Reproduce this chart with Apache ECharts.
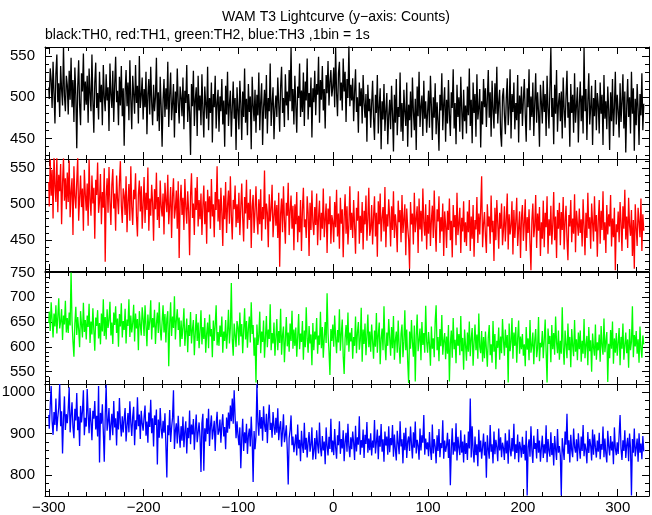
<!DOCTYPE html>
<html><head><meta charset="utf-8">
<script src="https://cdn.jsdelivr.net/npm/echarts@6/dist/echarts.min.js"></script>
<style>html,body{margin:0;padding:0;background:#fff}#c{width:652px;height:515px}</style>
</head><body><div id="c"></div>
<script>
// Time of first bin (s); 1 bin = 1 s
const T_START = -300;

// TH0 (black) counts per 1-s bin, t = -300 ... 328
const th0 = [
512,498,535,521,487,543,505,468,529,552,494,517,476,538,509,490,561,502,483,526,
515,479,532,497,548,488,521,470,536,503,438,512,545,491,466,529,507,553,484,519,
491,526,469,535,504,483,552,496,457,518,542,487,505,473,531,494,515,466,539,500,
483,528,496,512,459,541,503,487,532,470,515,549,494,508,466,525,490,538,477,511,
441,506,533,489,518,472,545,497,461,526,504,480,539,493,514,468,550,487,502,524,
473,510,488,531,455,504,522,479,537,494,466,515,483,500,548,471,506,459,525,489,
440,497,522,476,511,485,543,464,503,530,472,492,516,451,507,481,535,494,468,513,
500,477,524,461,508,493,539,470,504,482,430,516,489,532,465,497,512,453,526,484,
502,466,528,485,451,513,492,474,537,460,499,481,518,445,504,488,526,462,493,509,
458,501,483,522,467,496,440,514,479,531,465,492,508,452,487,519,474,499,436,512,
485,461,520,493,448,507,476,535,469,498,454,516,482,501,437,525,490,471,509,457,
503,478,530,460,495,517,442,488,509,474,527,456,499,483,541,465,492,512,449,486,
502,476,524,492,458,513,537,481,499,464,528,490,507,472,533,495,560,483,510,467,
526,490,457,513,499,541,476,508,482,530,465,519,496,547,473,505,488,524,451,511,
494,532,478,516,503,549,469,521,497,538,484,510,462,527,505,544,490,518,533,501,
512,536,488,560,505,477,529,543,496,518,484,547,507,531,470,522,499,562,489,515,
496,523,471,506,534,482,500,457,518,489,511,468,527,493,475,504,446,515,483,498,
463,492,520,474,448,503,481,527,456,490,511,437,495,473,516,459,484,505,443,478,
497,461,514,480,434,503,469,522,454,488,476,530,458,493,447,509,482,465,518,440,
491,472,507,451,524,483,460,498,436,513,477,531,464,489,502,453,520,474,495,457,
482,508,463,526,489,448,500,475,517,455,494,471,435,503,484,529,460,492,512,446,
497,468,521,479,453,506,487,534,462,493,443,515,476,500,458,525,484,449,509,471,
490,456,513,478,535,465,497,444,518,481,504,452,528,473,487,510,439,495,467,522,
488,511,464,498,533,475,506,452,520,485,462,517,480,537,468,494,509,456,440,501,
511,478,455,499,523,466,487,534,450,504,482,518,461,493,472,527,445,502,480,513,
465,497,522,479,446,511,488,534,460,501,476,518,453,493,529,469,506,482,440,515,
494,468,520,482,504,453,526,487,462,511,560,476,499,443,515,480,533,458,492,505,
471,507,450,524,486,463,501,532,475,494,440,516,481,503,457,529,469,490,512,445,
492,519,471,502,456,560,483,510,448,495,529,467,488,514,442,499,477,521,460,505,
491,456,518,480,503,442,527,474,495,461,513,484,436,506,471,522,453,488,531,467,
503,484,451,517,470,495,528,462,507,433,489,522,476,500,456,531,480,511,435,498,
466,516,487,442,504,478,529,460,492
];

// TH1 (red)
const th1 = [
531,497,563,512,548,480,570,525,503,566,489,541,518,556,472,529,564,505,536,493,
544,503,561,482,518,536,457,553,511,494,532,565,477,509,540,496,522,463,548,514,
491,529,470,562,507,484,540,501,523,452,534,513,558,488,505,542,472,517,495,550,
420,511,536,488,552,503,471,527,549,494,515,463,540,508,486,531,560,498,474,522,
512,485,539,461,504,528,477,553,496,471,520,507,543,482,455,514,533,490,525,466,
500,538,474,516,492,551,463,508,484,527,502,449,521,493,544,478,510,467,533,497,
483,515,458,530,505,489,541,472,498,524,453,511,536,480,494,519,466,532,425,503,
527,485,509,464,535,496,473,518,490,429,512,543,481,501,457,523,492,538,469,506,
479,515,457,498,526,472,504,445,520,489,511,466,535,483,500,454,517,492,553,476,
507,464,523,488,442,512,479,531,460,498,519,473,539,485,451,506,493,526,468,500,
474,516,457,495,529,481,448,510,487,534,466,502,478,521,439,497,513,460,491,525,
483,458,507,472,521,449,496,479,547,465,501,488,440,514,476,493,527,454,482,505,
470,499,453,516,413,487,508,461,525,478,445,502,484,530,457,491,512,466,498,436,
500,472,517,447,484,461,506,435,492,523,468,479,453,511,488,428,502,464,519,475,
457,496,471,515,443,482,505,450,488,466,522,454,479,501,432,494,472,511,445,485,
476,447,503,468,520,455,487,438,509,473,493,426,482,514,459,497,444,471,525,464,
488,453,506,470,431,495,477,518,445,484,460,503,437,491,472,512,449,480,523,456,
466,499,444,483,511,455,488,427,504,472,515,448,481,496,462,524,440,486,469,507,
482,441,497,464,518,453,486,470,433,505,475,492,447,513,460,479,500,429,494,468,
451,410,503,472,487,444,516,461,480,497,432,508,465,491,448,522,474,456,500,437,
485,459,506,442,478,498,453,519,467,434,493,476,511,446,482,462,501,428,490,471,
439,491,464,508,450,477,426,499,468,485,443,516,457,473,495,432,481,462,504,447,
475,442,490,461,506,435,483,452,499,427,478,465,510,446,487,458,494,539,440,472,
489,456,432,500,469,483,445,512,461,477,421,495,450,506,473,438,488,466,501,443,
464,497,448,479,515,437,486,458,471,504,430,492,453,476,509,442,467,490,425,481,
499,449,474,507,435,482,460,493,446,408,478,501,454,470,513,439,487,463,496,428,
475,452,505,440,488,468,511,431,479,456,498,444,472,517,450,483,425,492,466,502,
443,489,464,510,437,476,498,451,422,485,469,506,447,480,459,514,433,491,473,456,
494,460,479,441,507,470,429,488,453,516,466,482,438,501,474,448,511,462,485,427,
477,506,445,491,464,518,450,475,432,499,458,486,469,513,441,480,454,495,408,472,
461,490,447,503,474,435,497,466,520,451,483,439,509,470,456,492,428,478,410,500,
467,442,495,476,454,508,435,486,463
];

// TH2 (green)
const th2 = [
648,671,632,690,655,619,667,641,684,627,660,698,637,651,676,614,663,645,693,629,
658,628,669,643,750,652,611,580,647,681,624,660,636,599,672,645,619,689,630,654,
615,663,640,687,608,651,625,678,634,592,659,642,674,617,648,605,667,631,696,622,
660,615,676,638,654,691,623,649,606,669,644,682,628,657,600,666,641,688,619,652,
634,677,607,655,642,696,620,663,629,648,685,611,667,637,656,593,672,645,623,680,
656,622,684,643,601,665,634,652,694,615,658,639,675,606,647,669,628,690,636,613,
650,684,629,666,609,657,672,561,645,690,622,661,638,702,615,653,676,634,659,600,
653,616,640,678,602,631,657,589,644,622,670,607,635,654,583,628,666,612,649,597,
632,674,605,640,616,658,588,627,649,597,665,621,636,579,653,612,644,684,603,630,
602,643,620,661,588,631,612,654,596,629,675,607,638,729,615,582,647,624,600,652,
640,603,669,621,646,587,633,678,615,652,598,637,661,609,690,626,644,582,619,528,
645,604,622,671,587,631,610,653,578,619,662,599,635,616,686,593,628,607,649,582,
618,656,593,632,608,677,584,623,641,569,614,660,601,629,590,647,612,673,596,635,
602,639,580,621,666,595,627,610,652,574,633,599,680,616,588,642,607,625,563,648,
593,631,615,658,586,623,604,671,597,640,578,619,650,608,708,627,591,543,636,612,
645,600,663,618,587,634,609,676,592,626,655,581,545,617,644,603,669,590,629,611,
638,576,620,602,661,587,629,650,594,613,679,570,635,606,647,583,622,665,599,631,
590,645,611,576,633,600,668,588,624,649,565,616,637,593,682,607,573,629,602,656,
619,582,640,597,662,574,613,631,588,653,601,566,627,645,579,610,674,593,635,570,
527,631,596,654,609,580,643,530,622,665,591,614,637,573,650,604,628,588,683,611,
588,630,605,562,641,596,617,579,652,684,593,620,571,636,601,664,584,612,628,575,
621,586,644,530,607,633,578,658,595,614,567,639,602,626,583,662,591,618,554,635,
604,572,629,590,651,581,616,638,562,609,645,593,625,576,667,600,587,632,570,620,
577,631,596,560,618,644,583,605,568,652,590,626,555,612,598,639,574,621,587,656,
613,582,635,598,624,528,647,591,610,658,576,629,602,640,568,617,653,586,621,595,
626,582,605,561,640,594,617,573,654,588,602,629,565,613,636,579,597,660,571,608,
599,632,577,613,655,590,528,637,606,622,569,644,595,628,584,661,609,587,633,574,
612,586,680,598,564,633,605,577,647,593,620,559,636,602,581,654,590,615,573,629,
595,633,570,612,586,656,577,604,622,563,640,591,613,550,627,599,582,645,574,609,
593,625,570,642,602,584,657,589,611,630,529,606,577,634,596,651,566,617,588,628,
582,609,638,563,620,596,647,574,603,629,587,615,558,636,593,610,682,579,624,601,
632,586,615,568,641,597,578,623,605
];

// TH3 (blue)
const th3 = [
945,912,968,1015,930,897,952,921,985,906,940,963,1020,918,954,852,936,990,909,947,
925,958,1012,903,944,976,915,889,960,932,998,908,941,870,967,927,954,1005,896,938,
917,1008,946,901,962,928,884,955,936,979,910,943,893,1015,830,950,924,971,905,832,
943,1018,907,930,962,884,921,948,896,979,915,937,871,954,910,986,925,893,942,903,
936,962,881,919,950,903,978,927,894,941,965,872,932,910,988,918,946,887,955,924,
907,940,968,895,929,878,951,916,982,901,937,869,944,921,958,825,934,890,962,913,
888,931,902,949,871,794,920,896,957,880,914,938,1005,863,907,925,876,943,899,866,
918,883,941,867,905,930,852,914,889,956,874,922,898,935,861,909,946,879,903,927,
892,807,925,948,810,913,881,937,899,960,870,918,944,886,908,931,858,922,953,897,
906,934,878,921,947,893,916,862,939,902,951,912,968,930,985,924,1005,940,889,930,
897,872,915,816,890,936,858,903,877,924,851,895,912,869,941,884,783,906,862,893,
1020,928,895,957,912,940,883,966,921,904,948,877,935,970,909,926,890,952,918,897,
938,902,961,884,915,930,868,906,947,879,897,920,861,777,889,908,944,872,893,855,
876,898,847,922,864,885,833,907,870,853,926,861,890,842,879,904,856,873,915,837,
860,889,838,908,873,852,927,866,845,894,859,881,826,915,870,847,892,863,936,855,
883,848,911,867,839,896,872,930,851,887,864,908,833,879,902,856,924,869,843,891,
862,905,878,836,919,857,891,873,942,849,884,866,910,841,897,875,928,854,888,860,
901,847,883,866,933,852,879,910,838,895,868,923,856,886,832,905,871,893,849,918,
855,889,872,921,844,898,863,835,907,876,850,930,869,886,828,902,860,914,841,881,
893,858,917,874,840,903,866,929,852,885,871,837,912,859,896,878,945,849,888,862,
879,845,904,860,836,922,852,887,869,828,896,858,911,843,877,865,932,839,883,856,
870,902,841,886,775,863,913,849,879,857,925,835,892,866,848,908,854,881,830,898,
851,877,836,905,864,985,842,918,859,830,893,848,874,821,909,855,883,839,867,900,
847,880,793,896,862,839,921,856,874,828,905,850,885,867,833,912,859,891,843,878,
865,836,901,852,883,827,910,861,845,889,857,924,838,874,853,898,831,880,866,842,
892,851,873,835,907,750,868,886,844,918,859,829,895,863,877,840,911,854,883,832,
866,895,841,874,852,920,831,887,859,844,903,848,877,823,894,862,836,911,854,870,
847,750,889,862,836,905,873,948,851,884,830,897,860,843,912,868,854,886,833,901,
864,839,893,858,921,845,876,862,828,904,853,887,871,835,910,849,898,866,842,883,
856,902,838,875,861,917,843,888,852,830,907,869,847,894,859,881,826,915,864,848,
879,851,897,945,862,836,884,858,908,841,873,890,833,900,866,750,887,854,912,845,
865,888,832,901,854,876,838,894,857
];

// Tick labels
const xTickLabels = [-300, -200, -100, 0, 100, 200, 300];
const yTickLabels = [
  [450, 500, 550],
  [450, 500, 550],
  [550, 600, 650, 700, 750],
  [800, 900, 1000]
];
const seriesNames = ['TH0', 'TH1', 'TH2', 'TH3'];
const seriesColors = ['#000000', '#ff0000', '#00ff00', '#0000ff'];
const seriesData = [th0, th1, th2, th3];

// Layout / scales (style, not data)
const X_MIN = -304, X_MAX = 333;
const yRanges = [[425, 561], [407, 563], [525, 751], [749, 1020]];
const yMinorStep = [10, 10, 10, 20];
const gridTops = [47, 159, 272, 384];
const GRID_H = 112;
const FONT = '"Liberation Sans", Arial, Helvetica, sans-serif';

function steps(a, b, s) { const r = []; for (let v = a; v <= b + 1e-9; v += s) r.push(v); return r; }
const xMinorTicks = steps(-300, 320, 20);
const minusFmt = v => (v < 0 ? '\u2212' + Math.abs(v) : String(v));
const plainFmt = v => String(v);

const grid = [], xAxis = [], yAxis = [], series = [];
for (let i = 0; i < 4; i++) {
  grid.push({ left: 45, right: 3, top: gridTops[i], height: GRID_H, containLabel: false, outerBoundsMode: 'none', show: false });
  const [ymin, ymax] = yRanges[i];
  const yMinor = steps(Math.ceil(ymin / yMinorStep[i]) * yMinorStep[i], ymax, yMinorStep[i]);
  const line = { show: true, onZero: false, lineStyle: { color: '#000', width: 1 } };
  const noLine = { show: false, onZero: false };
  const xBase = { gridIndex: i, type: 'value', min: X_MIN, max: X_MAX, splitLine: { show: false }, minorTick: { show: false } };
  xAxis.push(Object.assign({}, xBase, {
    position: 'bottom', axisLine: line,
    axisTick: { show: true, inside: true, length: 7, customValues: xTickLabels, lineStyle: { color: '#000', width: 1 } },
    axisLabel: { show: i === 3, customValues: xTickLabels, formatter: minusFmt, color: '#000', fontSize: 15, fontFamily: FONT, margin: 4 }
  }));
  xAxis.push(Object.assign({}, xBase, {
    position: 'bottom', axisLine: noLine,
    axisTick: { show: true, inside: true, length: 4, customValues: xMinorTicks, lineStyle: { color: '#000', width: 1 } },
    axisLabel: { show: false }
  }));
  xAxis.push(Object.assign({}, xBase, {
    position: 'top', axisLine: line,
    axisTick: { show: true, inside: true, length: 7, customValues: xTickLabels, lineStyle: { color: '#000', width: 1 } },
    axisLabel: { show: false }
  }));
  xAxis.push(Object.assign({}, xBase, {
    position: 'top', axisLine: noLine,
    axisTick: { show: true, inside: true, length: 4, customValues: xMinorTicks, lineStyle: { color: '#000', width: 1 } },
    axisLabel: { show: false }
  }));

  const yBase = { gridIndex: i, type: 'value', min: ymin, max: ymax, splitLine: { show: false }, minorTick: { show: false } };
  yAxis.push(Object.assign({}, yBase, {
    position: 'left', axisLine: line,
    axisTick: { show: true, inside: true, length: 7, customValues: yTickLabels[i], lineStyle: { color: '#000', width: 1 } },
    axisLabel: { show: true, customValues: yTickLabels[i], formatter: plainFmt, color: '#000', fontSize: 15, fontFamily: FONT, margin: 10 }
  }));
  yAxis.push(Object.assign({}, yBase, {
    position: 'left', axisLine: noLine,
    axisTick: { show: true, inside: true, length: 4, customValues: yMinor, lineStyle: { color: '#000', width: 1 } },
    axisLabel: { show: false }
  }));
  yAxis.push(Object.assign({}, yBase, {
    position: 'right', axisLine: line,
    axisTick: { show: true, inside: true, length: 7, customValues: yTickLabels[i], lineStyle: { color: '#000', width: 1 } },
    axisLabel: { show: false }
  }));
  yAxis.push(Object.assign({}, yBase, {
    position: 'right', axisLine: noLine,
    axisTick: { show: true, inside: true, length: 4, customValues: yMinor, lineStyle: { color: '#000', width: 1 } },
    axisLabel: { show: false }
  }));

  const d = seriesData[i].map((v, k) => [T_START + k, v]);
  series.push({
    name: seriesNames[i], type: 'line', xAxisIndex: 4 * i, yAxisIndex: 4 * i,
    data: d, showSymbol: false, symbol: 'none', clip: true, step: 'middle',
    lineStyle: { color: seriesColors[i], width: 1.3 }, itemStyle: { color: seriesColors[i] },
    silent: true, animation: false
  });
}

const chart = echarts.init(document.getElementById('c'), null, { renderer: 'canvas' });
chart.setOption({
  animation: false,
  backgroundColor: '#ffffff',
  grid, xAxis, yAxis, series,
  graphic: [
    { type: 'text', x: 336, y: 17, style: { text: 'WAM T3 Lightcurve (y\u2212axis: Counts)', font: '14px ' + FONT, fill: '#000', align: 'center', verticalAlign: 'middle', textAlign: 'center', textVerticalAlign: 'middle' } },
    { type: 'text', x: 45, y: 35, style: { text: 'black:TH0, red:TH1, green:TH2, blue:TH3 ,1bin = 1s', font: '14px ' + FONT, fill: '#000', align: 'left', verticalAlign: 'middle', textAlign: 'left', textVerticalAlign: 'middle' } }
  ]
});
</script>
</body></html>
